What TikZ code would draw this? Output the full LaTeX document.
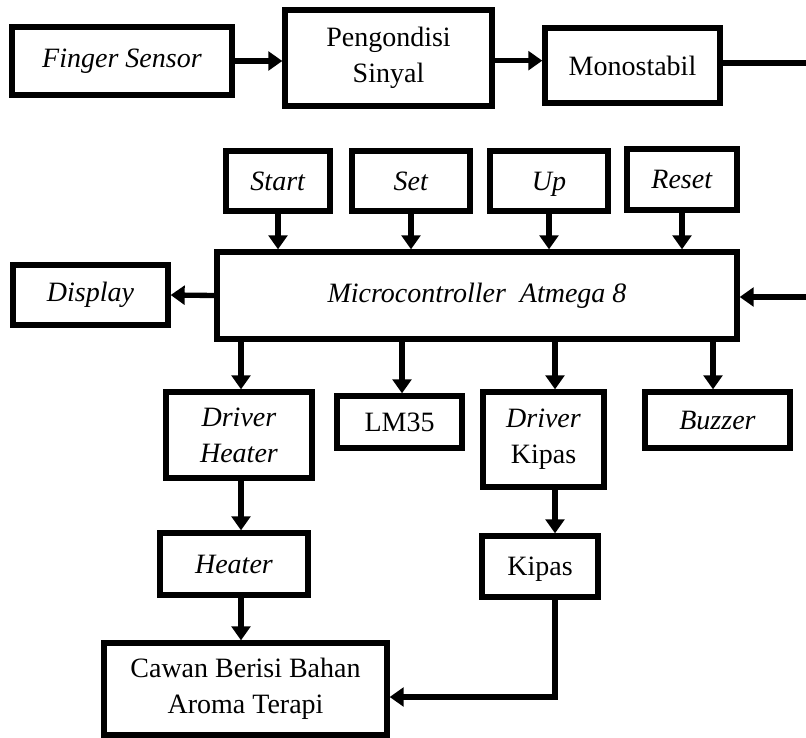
\documentclass[tikz,border=0pt]{standalone}
\usepackage{fontspec}
\setmainfont{Liberation Serif}
\usetikzlibrary{arrows.meta,calc}
\begin{document}
\begin{tikzpicture}[x=0.75pt,y=-0.75pt,
  blk/.style={draw=black, line width=4pt, fill=white, inner sep=0pt, align=center,
    font=\fontsize{21}{27}\selectfont},
  arr/.style={line width=4pt, -{Triangle[length=10.5pt,width=14pt]}},
  ln/.style={line width=4pt}]
\useasboundingbox (0,0) rectangle (806,738);
% top row
\node[blk, minimum width=220*0.75pt, minimum height=68*0.75pt] (fs) at (122,61) {\textit{Finger Sensor}};
\node[blk, minimum width=207*0.75pt, minimum height=96*0.75pt] (ps) at (388.5,58) {Pengondisi\\Sinyal};
\node[blk, minimum width=175*0.75pt, minimum height=75*0.75pt] (mono) at (632.5,65.5) {Monostabil};
\coordinate (e1) at (806,63);
\coordinate (e2) at (806,297);
% inputs
\node[blk, minimum width=104*0.75pt, minimum height=60*0.75pt] (start) at (278,181) {\textit{Start}};
\node[blk, minimum width=118*0.75pt, minimum height=60*0.75pt] (set) at (411,181) {\textit{Set}};
\node[blk, minimum width=118*0.75pt, minimum height=60*0.75pt] (up) at (549,181) {\smash{\textit{Up}}\vphantom{S}};
\node[blk, minimum width=110*0.75pt, minimum height=61*0.75pt] (reset) at (682,179.5) {\textit{Reset}};
% micro
\node[blk, minimum width=520*0.75pt, minimum height=87*0.75pt] (mc) at (477,295.5) {\textit{Microcontroller~~Atmega 8}};
\node[blk, minimum width=155*0.75pt, minimum height=60*0.75pt] (disp) at (90.5,295) {\textit{Display}};
% outputs
\node[blk, minimum width=146*0.75pt, minimum height=86*0.75pt] (dh) at (239,435) {\textit{Driver}\\\textit{Heater}};
\node[blk, minimum width=125*0.75pt, minimum height=52*0.75pt] (lm) at (399.5,422) {LM35};
\node[blk, minimum width=121*0.75pt, minimum height=95*0.75pt] (dk) at (543.5,439.5) {\textit{Driver}\\Kipas};
\node[blk, minimum width=145*0.75pt, minimum height=56*0.75pt] (buz) at (717.5,420) {\textit{Buzzer}};
\node[blk, minimum width=148*0.75pt, minimum height=62*0.75pt] (heat) at (234,564) {\textit{Heater}};
\node[blk, minimum width=116*0.75pt, minimum height=61*0.75pt] (kip) at (540,566.5) {\smash{Kipas}\vphantom{K}};
\node[blk, minimum width=283*0.75pt, minimum height=92*0.75pt] (caw) at (245.5,689) {Cawan Berisi Bahan\\Aroma Terapi};
% x guides
\coordinate (xa) at (241,0);
\coordinate (xb) at (402,0);
\coordinate (xc) at (555,0);
\coordinate (xd) at (713,0);
% connectors top
\draw[arr] (fs.east) -- (fs.east -| ps.west);
\draw[arr] ([yshift=-2pt]ps.east) -- ([yshift=-2pt]ps.east -| mono.west);
\draw[ln] (mono.east |- e1) -- (e1);
\draw[arr] (e2) -- (e2 -| mc.east);
% inputs
\draw[arr] (start.south) -- (start.south |- mc.north);
\draw[arr] (set.south) -- (set.south |- mc.north);
\draw[arr] (up.south) -- (up.south |- mc.north);
\draw[arr] (reset.south) -- (reset.south |- mc.north);
\draw[arr] (mc.west) -- (disp.east);
% outputs
\draw[arr] (mc.south -| xa) -- (dh.north -| xa);
\draw[arr] (mc.south -| xb) -- (lm.north -| xb);
\draw[arr] (mc.south -| xc) -- (dk.north -| xc);
\draw[arr] (mc.south -| xd) -- (buz.north -| xd);
\draw[arr] (dh.south -| xa) -- (heat.north -| xa);
\draw[arr] (dk.south -| xc) -- (kip.north -| xc);
\draw[arr] (heat.south -| xa) -- (caw.north -| xa);
\draw[arr] (kip.south -| xc) |- ([yshift=-6pt]caw.east);
\end{tikzpicture}
\end{document}
